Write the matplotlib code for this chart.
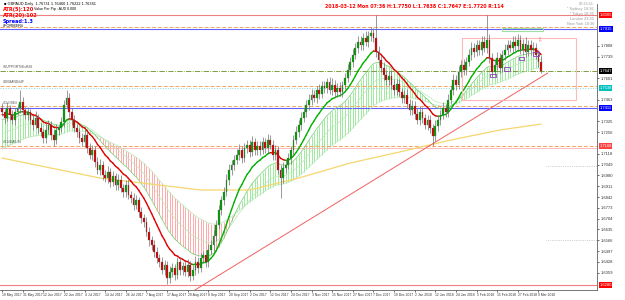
import matplotlib
matplotlib.use("Agg")
import matplotlib.pyplot as plt
from matplotlib.collections import LineCollection
import numpy as np
import pandas as pd

# ---------------- data (GBPAUD daily) ----------------
closes = [1.7385,1.7347,1.7411,1.7366,1.7334,1.7385,1.7411,1.7449,1.7398,1.7366,
          1.7385,1.7334,1.7302,1.7347,1.7283,1.7258,1.7219,1.7270,1.7302,1.7238,
          1.7206,1.7270,1.7283,1.7321,1.7430,1.7475,1.7385,1.7334,1.7283,1.7258,
          1.7219,1.7194,1.7238,1.7155,1.7111,1.7143,1.7066,1.7015,1.7047,1.6983,
          1.6964,1.7002,1.6938,1.6976,1.6919,1.6951,1.6900,1.6874,1.6919,1.6855,
          1.6836,1.6791,1.6823,1.6746,1.6708,1.6682,1.6619,1.6567,1.6535,1.6491,
          1.6452,1.6427,1.6376,1.6408,1.6325,1.6363,1.6389,1.6344,1.6427,1.6376,
          1.6401,1.6363,1.6408,1.6337,1.6376,1.6427,1.6389,1.6452,1.6472,1.6427,
          1.6504,1.6535,1.6593,1.6663,1.6759,1.6823,1.6874,1.6951,1.7015,1.7047,
          1.7079,1.7111,1.7143,1.7091,1.7155,1.7174,1.7130,1.7194,1.7143,1.7168,
          1.7143,1.7194,1.7155,1.7206,1.7174,1.7111,1.7143,1.7015,1.6964,1.7028,
          1.7047,1.7091,1.7143,1.7206,1.7258,1.7302,1.7347,1.7385,1.7430,1.7462,
          1.7494,1.7475,1.7526,1.7500,1.7551,1.7539,1.7577,1.7526,1.7558,1.7513,
          1.7539,1.7513,1.7558,1.7603,1.7654,1.7705,1.7750,1.7794,1.7833,1.7813,
          1.7858,1.7833,1.7871,1.7890,1.7858,1.7769,1.7718,1.7666,1.7622,1.7590,
          1.7615,1.7558,1.7526,1.7564,1.7513,1.7475,1.7494,1.7436,1.7398,1.7424,
          1.7373,1.7334,1.7385,1.7347,1.7302,1.7334,1.7283,1.7232,1.7296,1.7334,
          1.7366,1.7411,1.7385,1.7462,1.7526,1.7590,1.7558,1.7641,1.7686,1.7654,
          1.7705,1.7750,1.7794,1.7769,1.7813,1.7782,1.7833,1.7794,1.7845,1.7730,
          1.7641,1.7686,1.7730,1.7667,1.7750,1.7782,1.7813,1.7794,1.7833,1.7807,
          1.7845,1.7782,1.7820,1.7769,1.7813,1.7782,1.7794,1.7750,1.7705,1.7647]
first_open = 1.7411
# upper / lower shadows in pips
wick_up_pips = [30,22,40,18,35,28,25,77,30,20, 35,18,30,42,25,30,20,45,30,25,
                30,40,22,35,30,51,30,25,35,28, 25,30,40,20,35,30,25,30,40,25,
                30,35,25,30,20,35,30,25,30,35, 25,30,35,20,30,25,35,30,25,30,
                30,25,35,30,25,40,30,25,35,30, 25,30,35,25,30,40,30,35,25,30,
                35,30,40,30,35,25,30,40,35,30, 30,35,40,25,30,35,30,40,25,30,
                35,30,25,40,30,35,30,25,30,35, 30,35,25,30,40,30,35,25,30,40,
                35,30,25,40,30,35,25,30,45,30, 30,35,25,30,40,30,35,30,40,35,
                30,45,30,35,30,147,35,30,40,30, 35,30,40,30,35,25,30,35,30,40,
                30,35,40,30,25,35,30,25,35,30, 30,35,25,40,30,35,30,40,30,35,
                30,35,40,30,35,30,40,35,160,40, 35,30,40,35,30,40,35,30,40,35,
                40,35,30,45,35,30,40,35,30,35]
wick_dn_pips = [25,30,20,35,25,30,20,30,35,25, 30,25,35,20,30,25,35,30,25,30,
                35,25,30,25,30,20,35,30,25,30, 30,25,35,30,25,35,30,25,30,35,
                25,30,35,25,30,35,25,30,35,25, 30,35,25,30,35,30,25,35,30,35,
                30,35,25,30,38,30,35,30,25,35, 30,25,35,30,25,30,35,25,30,35,
                30,25,35,30,25,30,35,25,30,35, 30,25,35,30,25,30,35,25,30,35,
                30,25,35,30,25,30,35,25,128,30, 30,25,35,30,25,30,35,25,30,35,
                30,25,35,30,25,30,35,25,30,35, 30,25,35,30,25,30,35,25,30,35,
                30,25,35,30,25,30,35,25,30,35, 30,25,35,30,25,30,35,25,30,35,
                30,25,35,30,25,30,35,64,30,35, 30,25,35,30,25,30,35,25,30,35,
                30,25,35,30,25,30,35,25,30,35, 30,25,35,30,25,30,35,25,30,35,
                30,25,35,30,25,30,35,25,30,15]
# moving-average starting levels at the left edge of the chart
seed_fast, seed_ma21, seed_ma34, seed_ma55 = 1.7366, 1.7334, 1.7238, 1.7143

yellow_x = [0, 38, 77, 96, 115, 135, 154, 174, 193, 209]
yellow_v = [1.7091, 1.6963, 1.6887, 1.6887, 1.6963, 1.7059, 1.7129, 1.7206, 1.7270, 1.7308]

last_date = "2018-03-12"
holidays = ["2017-12-25", "2018-01-01"]

hlines = [  # price, color, style, lw
    (1.8005, "#f08080", "-", 0.8),
    (1.7928, "#f4a460", (0, (4, 2)), 0.7),
    (1.7915, "#6060ff", "-", 0.8),
    (1.7647, "#6b8e23", "-.", 0.6),
    (1.7551, "#f4a460", (0, (4, 2)), 0.7),
    (1.7538, "#80e0e0", ":", 0.7),
    (1.7423, "#f4a460", (0, (4, 2)), 0.7),
    (1.7411, "#6060ff", "-", 0.8),
    (1.7168, "#f4a460", (0, (4, 2)), 0.7),
    (1.7155, "#ffb0b0", "-", 0.6),
    (1.6280, "#f08080", "-", 0.8),
]
line_names = [(1.7660, "#SUPPORT#ExR#8"), (1.7562, "#DEMAND#4F"), (1.7432, "#CLOSE#"), (1.7178, "#S1#DAILY#")]
price_tags = [(1.8005, "#ff0000"), (1.7915, "#0000ff"), (1.7647, "#000000"), (1.7538, "#00c0c0"),
              (1.7411, "#0000ff"), (1.7168, "#ff4040"), (1.6280, "#ff0000")]
purple_boxes = [(189.1, 1.7609, 2.4, 0.0019), (194.6, 1.7647, 2.3, 0.0026),
                (200.4, 1.7718, 1.9, 0.0019), (205.8, 1.7743, 2.3, 0.0026)]

# ---------------- figure ----------------
W, H = 625, 300
fig = plt.figure(figsize=(W / 100, H / 100), dpi=100)
L, R, T, B = 0, 597, 4, 290
ax = fig.add_axes([L / W, (H - B) / H, (R - L) / W, (B - T) / H])
SMALL = "Liberation Sans"

n = len(closes)
x = np.arange(n)
c = np.array(closes)
o = np.concatenate([[first_open], c[:-1]])
hi = np.maximum(o, c) + np.array(wick_up_pips) / 10000
lo = np.minimum(o, c) - np.array(wick_dn_pips) / 10000


def ema(vals, span, seed):
    a = 2.0 / (span + 1)
    out, m = [], seed
    for v in vals:
        m = m + a * (v - m)
        out.append(m)
    return np.array(out)


fastl = ema(c, 13, seed_fast)
ma21 = ema(c, 21, seed_ma21)
ma34 = ema(c, 34, seed_ma34)
ma55 = ema(c, 55, seed_ma55)

for i in range(n):
    col = "#8ee88e" if ma21[i] >= ma55[i] else "#ff9c9c"
    ax.vlines(x[i], min(ma21[i], ma55[i]), max(ma21[i], ma55[i]), color=col, lw=0.6, zorder=1)
ax.plot(x, ma55, color="#b8e8b8", lw=0.5, zorder=2)
ax.plot(x, ma34, color="#b8e8b8", lw=0.5, zorder=2)
ax.plot(x, ma21, color="#70cc70", lw=0.5, zorder=2)
segs = [[(x[i - 1], fastl[i - 1]), (x[i], fastl[i])] for i in range(1, n)]
cols = ["#00b000" if fastl[i] >= fastl[i - 1] else "#e00000" for i in range(1, n)]
ax.add_collection(LineCollection(segs, colors=cols, linewidths=1.0, zorder=3, capstyle="round"))
ax.plot(yellow_x, yellow_v, color="#f5d76e", lw=0.9, zorder=2)

# candles
ax.vlines(x, lo, hi, color="#707070", lw=0.5, zorder=4)
up = c >= o
ax.bar(x[up], (c - o)[up], bottom=o[up], width=0.7, color="#00a000", edgecolor="#606060", lw=0.2, zorder=5)
ax.bar(x[~up], (o - c)[~up], bottom=c[~up], width=0.7, color="#d00000", edgecolor="#606060", lw=0.2, zorder=5)

for p, col, ls, lw in hlines:
    ax.axhline(p, color=col, ls=ls, lw=lw, zorder=1.5)
for p, t in line_names:
    ax.text(0.5, p, t, fontsize=2.4, color="#555555", family=SMALL, va="bottom", zorder=6)

# trendline
ax.plot([74.8, 211.6], [1.6248, 1.7634], color="#f06060", lw=0.7, zorder=3)
# rectangles and marks
ax.add_patch(plt.Rectangle((178.3, 1.7462), 44.2, 0.0398, fill=False, ec="#ffb8b8", lw=0.8, zorder=3))
ax.add_patch(plt.Rectangle((193.8, 1.7903), 15.9, 0.0019, fill=False, ec="#a0e0a0", lw=0.8, zorder=3))
for bx, by, bw, bh in purple_boxes:
    ax.add_patch(plt.Rectangle((bx, by), bw, bh, fill=False, ec="#9040c0", lw=0.6, zorder=6))
ax.text(208.5, 1.7845, "\u21e9", fontsize=4, color="#ff6060", ha="center", va="center", zorder=6)
ax.hlines([1.7041, 1.6568], 211, 230.7, colors="#aaaaaa", linestyles=":", lw=0.5, zorder=1)

ymin, ymax = 1.6248, 1.8075
ax.set_ylim(ymin, ymax)
ax.set_xlim(-0.8, 230.7)
ax.yaxis.tick_right()
yt = np.arange(1.6290, 1.8075, 0.0069)
tag_prices = [p for p, _ in price_tags]
yt = [v for v in yt if min(abs(v - p) for p in tag_prices) > 0.0045]
ax.set_yticks(yt)
ax.set_yticklabels([f"{v:.4f}" for v in yt], fontsize=3, color="#333333", family=SMALL)

dates = [d for d in pd.bdate_range(end=last_date, periods=n + len(holidays))
         if d.strftime("%Y-%m-%d") not in holidays][-n:]
tick_idx = list(range(0, n, 8))
ax.set_xticks(tick_idx)
ax.set_xticklabels([f"{dates[i].day} {dates[i]:%b %Y}" for i in tick_idx], fontsize=2.4,
                   ha="left", color="#333333", family=SMALL)
ax.tick_params(length=1.5, width=0.4, pad=1)
for sp in ["top", "left"]:
    ax.spines[sp].set_visible(False)
for sp in ["right", "bottom"]:
    ax.spines[sp].set_color("#606060")
    ax.spines[sp].set_linewidth(0.6)

for p, bg in price_tags:
    ax.text(1.004, (p - ymin) / (ymax - ymin), f"{p:.4f}", transform=ax.transAxes, fontsize=3,
            color="white", va="center", ha="left", family=SMALL,
            bbox=dict(boxstyle="square,pad=0.15", fc=bg, ec="none"))

# texts
fig.text(4 / W, 1 - 4 / H, "\u25a0 GBPAUD,Daily  1.76731 1.76460 1.76222 1.76341", fontsize=2.8,
         va="center", family=SMALL)
fig.text(34 / W, 1 - 9 / H, "Value Per Pip : AUD 0.000", fontsize=2.6, va="center", family=SMALL)
fig.text(3 / W, 1 - 10 / H, "ATR(5):120", fontsize=3.6, color="red", weight="bold", va="center")
fig.text(3 / W, 1 - 15.5 / H, "ATR(20):102", fontsize=3.6, color="red", weight="bold", va="center")
fig.text(3 / W, 1 - 21 / H, "Spread:1.3", fontsize=3.6, color="blue", weight="bold", va="center")
fig.text(3 / W, 1 - 26 / H, "#FORMER#", fontsize=2.8, color="black", va="center", family=SMALL)
fig.text(325 / W, 1 - 6 / H, "2018-03-12 Mon 07:36 H:1.7750 L:1.7638 C:1.7647 E:1.7720 R:114",
         fontsize=3.4, color="red", weight="bold", va="center")
for k, t in enumerate(["00:23:11", "* Sydney 18:36", "* Tokyo 18:36", "London 23:36", "New York 18:36"]):
    fig.text(594 / W, 1 - (4 + 5 * k) / H, t, fontsize=2.8, color="#999999", ha="right", va="center",
             family=SMALL)

fig.savefig("out.png", dpi=100, facecolor="white")
